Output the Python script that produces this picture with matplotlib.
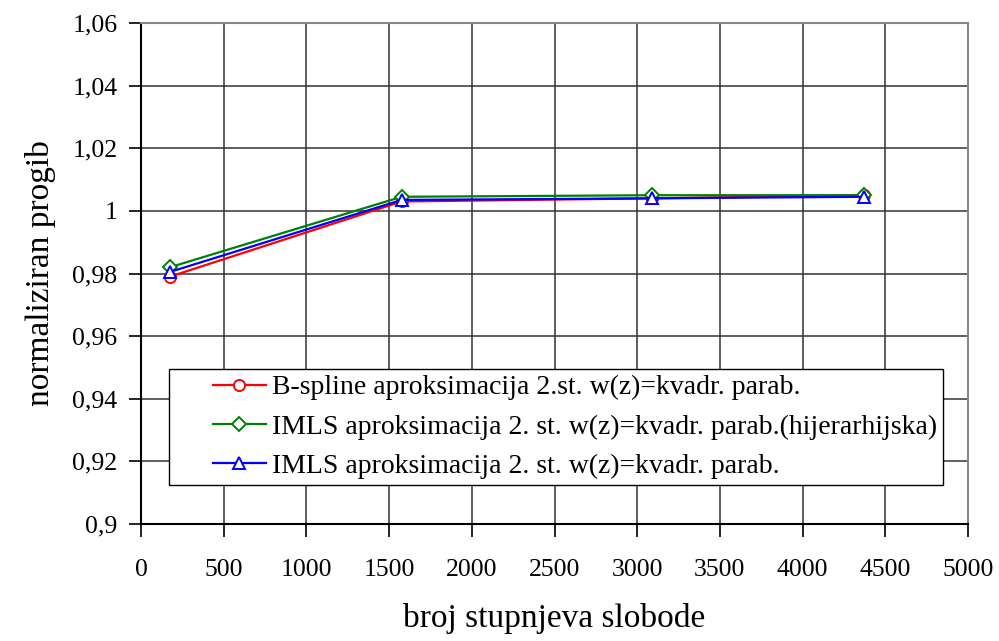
import numpy as np
import matplotlib
matplotlib.use('Agg')
import matplotlib.pyplot as plt
import matplotlib.ticker as mtick
from matplotlib.legend_handler import HandlerLine2D

plt.rcParams['font.family'] = ['Liberation Serif', 'DejaVu Serif']

# data
dof = [175, 1576, 3092, 4372]
bspline = [0.979, 1.003, 1.004, 1.005]
imls_hier = [0.982, 1.0045, 1.005, 1.005]
imls = [0.9805, 1.0035, 1.004, 1.0045]

labels = ['B-spline aproksimacija 2.st. w(z)=kvadr. parab.',
          'IMLS aproksimacija 2. st. w(z)=kvadr. parab.(hijerarhijska)',
          'IMLS aproksimacija 2. st. w(z)=kvadr. parab.']


class ShiftedLine(HandlerLine2D):
    # legend key drawn only on the right part of the handle box
    def create_artists(self, legend, orig_handle, xdescent, ydescent,
                       width, height, fontsize, trans):
        shift = width * 0.42
        return super().create_artists(legend, orig_handle, xdescent - shift,
                                      ydescent, width - shift, height,
                                      fontsize, trans)


fig = plt.figure(figsize=(9.99, 6.41), dpi=100)
ax = fig.add_axes([141/999, 1 - 524/641, 827/999, 501/641])

ax.plot(dof, bspline, color='red', lw=1.6, marker='o', ms=8,
        mfc='white', mec='red', mew=1.4, label=labels[0])
ax.plot(dof, imls_hier, color='green', lw=1.6, marker='D', ms=7,
        mfc='white', mec='green', mew=1.4, label=labels[1])
ax.plot(dof, imls, color='blue', lw=1.6, marker='^', ms=8,
        mfc='white', mec='blue', mew=1.4, label=labels[2])

ax.set_xlim(0, 5000)
ax.set_ylim(0.9, 1.06)
ax.xaxis.set_major_locator(plt.MultipleLocator(500))
ax.yaxis.set_major_locator(plt.MultipleLocator(0.02))


def comma(v, pos):
    return f"{round(v, 2):g}".replace('.', ',')


ax.yaxis.set_major_formatter(mtick.FuncFormatter(comma))
ax.grid(True, color='#333333', lw=1.1)
ax.set_axisbelow(True)
for s in ['top', 'right']:
    ax.spines[s].set_color('#888888')
    ax.spines[s].set_linewidth(1.5)
for s in ['left', 'bottom']:
    ax.spines[s].set_color('black')
    ax.spines[s].set_linewidth(1.5)

ax.tick_params(axis='both', labelsize=18.5, length=9, width=1.2)
ax.tick_params(axis='x', pad=16)
ax.tick_params(axis='y', pad=8)

ax.set_xlabel('broj stupnjeva slobode', fontsize=24, labelpad=16)
ax.set_ylabel('normaliziran progib', fontsize=24, labelpad=12)

leg = ax.legend(loc='upper left', bbox_to_anchor=(0.034, 0.31), fontsize=20,
                fancybox=False, edgecolor='black', framealpha=1,
                handlelength=3.25, handletextpad=0.22, labelspacing=0.5,
                borderpad=0.22, borderaxespad=0,
                handler_map={plt.Line2D: ShiftedLine()})
leg.get_frame().set_linewidth(1.0)

fig.savefig('out.png', dpi=100)
